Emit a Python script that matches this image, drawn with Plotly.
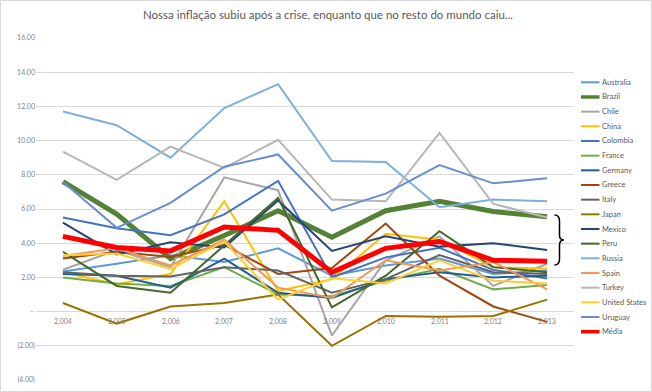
import plotly.graph_objects as go

years = ["2,004", "2,005", "2,006", "2,007", "2,008", "2,009", "2,010", "2,011", "2,012", "2,013"]

australia = [2.35, 2.8, 3.3, 2.9, 3.7, 2.1, 2.7, 3.1, 2.2, 2.4]
brazil = [7.6, 5.7, 3.1, 4.45, 5.9, 4.35, 5.9, 6.45, 5.85, 5.55]
chile = [2.45, 3.6, 2.6, 7.85, 7.1, -1.4, 3.0, 4.4, 1.5, 2.8]
china = [2.3, 1.6, 2.2, 6.45, 1.2, 1.9, 4.55, 4.2, 2.6, 2.5]
colombia = [5.5, 4.87, 4.47, 5.68, 7.65, 2.0, 3.17, 3.73, 2.44, 1.94]
france = [2.0, 1.65, 1.5, 2.6, 1.0, 0.9, 1.8, 2.5, 1.3, 1.55]
germany = [2.2, 2.1, 1.4, 3.1, 1.1, 0.8, 1.9, 2.3, 2.0, 2.1]
greece = [3.1, 3.5, 3.2, 3.9, 2.2, 2.55, 5.15, 2.1, 0.3, -0.6]
italy = [2.3, 2.1, 2.05, 2.6, 2.4, 1.1, 1.9, 3.3, 2.3, 2.2]
japan = [0.5, -0.7, 0.3, 0.5, 1.0, -2.0, -0.25, -0.3, -0.25, 0.7]
mexico = [5.2, 3.35, 4.05, 3.75, 6.5, 3.55, 4.4, 3.8, 4.0, 3.6]
peru = [3.5, 1.5, 1.1, 3.9, 6.65, 0.25, 2.1, 4.7, 2.6, 2.3]
russia = [11.7, 10.9, 9.0, 11.9, 13.3, 8.8, 8.75, 6.1, 6.55, 6.45]
spain = [3.25, 3.7, 2.7, 4.2, 1.4, 0.8, 3.0, 2.4, 2.9, 1.3]
turkey = [9.35, 7.7, 9.65, 8.4, 10.05, 6.55, 6.45, 10.45, 6.3, 5.5]
united_states = [3.3, 3.4, 2.5, 4.1, 0.7, 1.95, 1.65, 3.0, 1.8, 1.65]
uruguay = [7.6, 4.9, 6.36, 8.47, 9.19, 5.9, 6.9, 8.57, 7.5, 7.8]
media = [4.4, 3.75, 3.55, 4.95, 4.75, 2.3, 3.7, 4.1, 3.0, 2.95]

series_names = ["Australia", "Brazil", "Chile", "China", "Colombia", "France", "Germany",
                "Greece", "Italy", "Japan", "Mexico", "Peru", "Russia", "Spain", "Turkey",
                "United States", "Uruguay", "Média"]
series_values = [australia, brazil, chile, china, colombia, france, germany, greece, italy,
                 japan, mexico, peru, russia, spain, turkey, united_states, uruguay, media]
colors = ["#5B9BD5", "#548235", "#A5A5A5", "#FFC000", "#4472C4", "#70AD47", "#255E91",
          "#9E480E", "#636363", "#997300", "#264478", "#43682B", "#7CAFDD", "#F1975A",
          "#B7B7B7", "#FFCD33", "#698ED0", "#FF0000"]
widths = [2, 5, 2, 2, 2, 2, 2, 2, 2, 2, 2, 2, 2, 2, 2, 2, 2, 5]
legend_widths = [2, 3.5, 2, 2, 2, 2, 2, 2, 2, 2, 2, 2, 2, 2, 2, 2, 2, 3.5]

y_ticks = [-4, -2, 0, 2, 4, 6, 8, 10, 12, 14, 16]
y_ticktext = ["(4.00)", "(2.00)", " - ", "2.00", "4.00", "6.00", "8.00", "10.00", "12.00", "14.00", "16.00"]

FONT = "Lato, 'Open Sans', sans-serif"
W, H = 652, 392
L, R, T, B = 36, 78, 38, 12
PW, PH = W - L - R, H - T - B


def px(x):
    return (x - L) / PW


def py(y):
    return (H - B - y) / PH


fig = go.Figure()
for name, vals, c, w in zip(series_names, series_values, colors, widths):
    fig.add_trace(go.Scatter(x=years, y=vals, name=name, mode="lines",
                             line=dict(color=c, width=w), showlegend=False))

# x tick labels drawn next to the zero line (like Excel)
for yr in years:
    fig.add_annotation(x=yr, y=0, xref="x", yref="y", text=yr, showarrow=False,
                       yanchor="top", yshift=-3, font=dict(size=7, color="#7F7F7F", family=FONT))

# manual legend (compact spacing like the original)
leg_top, leg_step = 82.3, 14.67
for i, (name, c, w) in enumerate(zip(series_names, colors, legend_widths)):
    yy = leg_top + i * leg_step
    fig.add_shape(type="line", xref="paper", yref="paper", x0=px(581), x1=px(599.5),
                  y0=py(yy), y1=py(yy), line=dict(color=c, width=w))
    fig.add_annotation(x=px(600), y=py(yy), xref="paper", yref="paper", text=name,
                       showarrow=False, xanchor="left", yanchor="middle",
                       font=dict(size=7.5, color="#595959", family=FONT))

# curly brace
bx, btop, bbot = 554.5, 215, 265
bmid = (btop + bbot) / 2
pts = [
    ("M", [(bx, btop)]),
    ("Q", [(559.5, btop), (559.5, btop + 6)]),
    ("L", [(559.5, bmid - 5)]),
    ("Q", [(559.5, bmid), (564, bmid)]),
    ("Q", [(559.5, bmid), (559.5, bmid + 5)]),
    ("L", [(559.5, bbot - 6)]),
    ("Q", [(559.5, bbot), (bx, bbot)]),
]
path = " ".join(cmd + " " + " ".join(f"{px(a):.5f},{py(b):.5f}" for a, b in p) for cmd, p in pts)
fig.add_shape(type="path", xref="paper", yref="paper", path=path,
              line=dict(color="#000000", width=1.5))

fig.update_layout(
    width=W, height=H,
    margin=dict(l=L, r=R, t=T, b=B, autoexpand=False),
    paper_bgcolor="white", plot_bgcolor="white",
    title=dict(text="Nossa inflação subiu após a crise, enquanto que no resto do mundo caiu...",
               x=0.503, xref="container", xanchor="center", y=0.963, yref="container",
               yanchor="middle",
               font=dict(size=11.5, color="#595959", family=FONT)),
    xaxis=dict(type="category", showticklabels=False, showgrid=False, zeroline=False,
               showline=False, range=[-0.5, 9.5]),
    yaxis=dict(range=[-4, 16], tickvals=y_ticks, ticktext=y_ticktext,
               showgrid=True, gridcolor="#D9D9D9", gridwidth=1, zeroline=False,
               tickfont=dict(size=7, color="#7F7F7F", family=FONT), ticks="",
               showline=False),
    showlegend=False,
)
fig.add_shape(type="rect", xref="paper", yref="paper", x0=px(0.5), y0=py(391.5), x1=px(651.5), y1=py(0.5),
              line=dict(color="#D9D9D9", width=1))

fig.write_html("out.html", config={"displayModeBar": False},
               post_script="document.body.style.margin='0';document.body.style.padding='0';")
